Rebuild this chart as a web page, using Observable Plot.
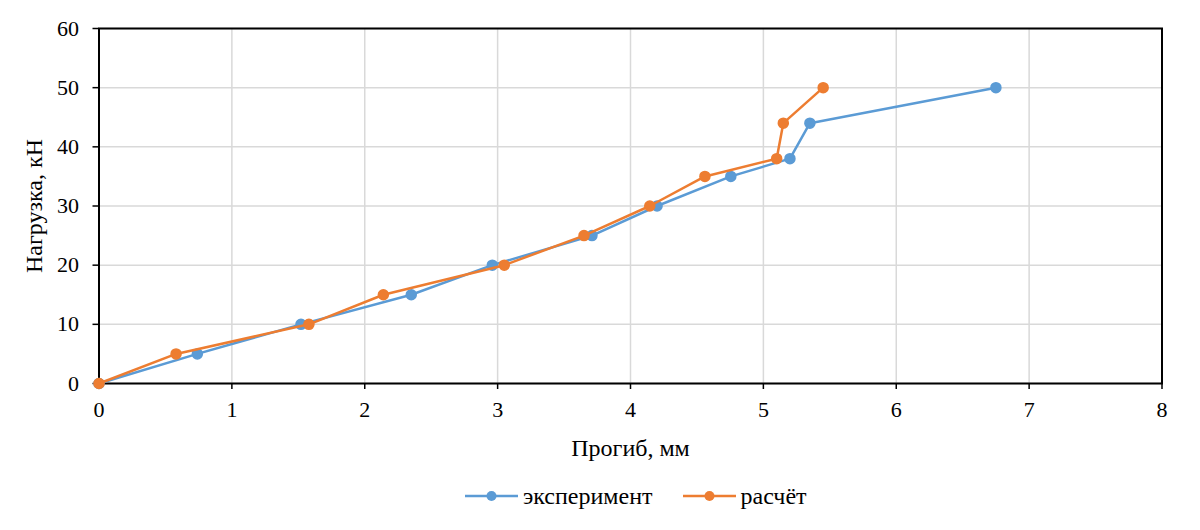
<!DOCTYPE html>
<html>
<head>
<meta charset="utf-8">
<script src="https://cdn.jsdelivr.net/npm/d3@7"></script>
<script src="https://cdn.jsdelivr.net/npm/@observablehq/plot@0.6"></script>
<style>
  html, body { margin: 0; padding: 0; background: #fff; }
  #chart { width: 1200px; }
  #chart svg text { font-family: "Liberation Serif", "Times New Roman", serif; }
  .legend { display: flex; align-items: center; padding-left: 465px; padding-top: 11px; height: 30px;
            font-family: "Liberation Serif", "Times New Roman", serif; font-size: 24px; color: #000; }
  .item { display: flex; align-items: center; }
  .item svg { margin-right: 5px; }
  .gap { width: 30px; }
</style>
</head>
<body>
<div id="chart"></div>
<script>
const loads = [0, 5, 10, 15, 20, 25, 30, 35, 38, 44, 50];
const deflExperiment = [0, 0.74, 1.52, 2.35, 2.96, 3.71, 4.20, 4.755, 5.20, 5.35, 6.75];
const deflCalculation = [0, 0.58, 1.58, 2.14, 3.05, 3.65, 4.145, 4.56, 5.10, 5.15, 5.45];
const seriesNames = ["эксперимент", "расчёт"];
const seriesColors = ["#5B9BD5", "#ED7D31"];
const xTicks = [0, 1, 2, 3, 4, 5, 6, 7, 8];
const yTicks = [0, 10, 20, 30, 40, 50, 60];
const xLabel = "Прогиб, мм";
const yLabel = "Нагрузка, кН";

const expData = loads.map((y, i) => ({x: deflExperiment[i], y, s: seriesNames[0]}));
const calcData = loads.map((y, i) => ({x: deflCalculation[i], y, s: seriesNames[1]}));

const chart = Plot.plot({
  width: 1200,
  height: 470,
  marginLeft: 98.5,
  marginRight: 38.5,
  marginTop: 28,
  marginBottom: 87,
  style: {fontFamily: "Liberation Serif, serif", fontSize: "22px", color: "#000", background: "#fff"},
  x: {domain: [0, 8]},
  y: {domain: [0, 60]},
  marks: [
    Plot.gridX(xTicks, {stroke: "#d9d9d9", strokeOpacity: 1, strokeWidth: 1.5}),
    Plot.gridY(yTicks, {stroke: "#d9d9d9", strokeOpacity: 1, strokeWidth: 1.5}),
    Plot.axisX(xTicks, {tickSize: 6, tickPadding: 12, stroke: "#000", strokeWidth: 1.5, fontSize: 22, tickFormat: d => String(d), label: null}),
    Plot.axisY(yTicks, {tickSize: 6, tickPadding: 14, stroke: "#000", strokeWidth: 1.5, fontSize: 22, tickFormat: d => String(d), label: null}),
    Plot.text([xLabel], {frameAnchor: "bottom", dy: 65, textAnchor: "middle", lineAnchor: "middle", fontSize: 24, fill: "#000"}),
    Plot.text([yLabel], {frameAnchor: "left", dx: -65, rotate: -90, textAnchor: "middle", lineAnchor: "middle", fontSize: 24, fill: "#000"}),
    Plot.frame({stroke: "#000", strokeWidth: 2}),
    Plot.line(expData, {x: "x", y: "y", stroke: seriesColors[0], strokeWidth: 2.5}),
    Plot.dot(expData, {x: "x", y: "y", r: 5, fill: seriesColors[0], stroke: seriesColors[0]}),
    Plot.line(calcData, {x: "x", y: "y", stroke: seriesColors[1], strokeWidth: 2.5}),
    Plot.dot(calcData, {x: "x", y: "y", r: 5, fill: seriesColors[1], stroke: seriesColors[1]})
  ]
});
document.getElementById("chart").appendChild(chart);

const legend = document.createElement("div");
legend.className = "legend";
seriesNames.forEach((name, i) => {
  if (i > 0) { const g = document.createElement("div"); g.className = "gap"; legend.appendChild(g); }
  const item = document.createElement("div");
  item.className = "item";
  item.innerHTML = `<svg width="53" height="14"><line x1="0" y1="7" x2="53" y2="7" stroke="${seriesColors[i]}" stroke-width="2.5"/><circle cx="26.5" cy="7" r="5" fill="${seriesColors[i]}"/></svg><span>${name}</span>`;
  legend.appendChild(item);
});
document.body.appendChild(legend);
</script>
</body>
</html>
